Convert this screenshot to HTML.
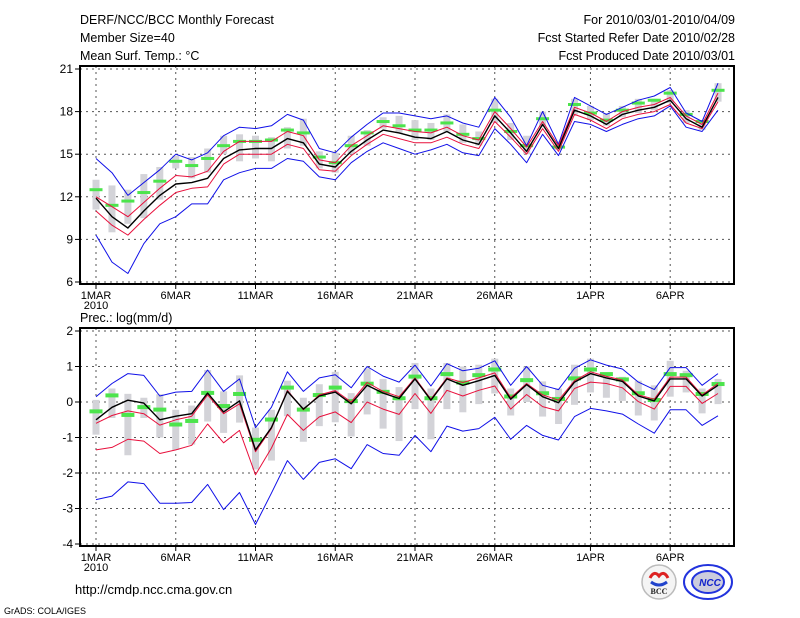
<!DOCTYPE html>
<html><head><meta charset="utf-8"><style>
html,body{margin:0;padding:0;background:#fff;}
svg{display:block;font-family:"Liberation Sans",sans-serif;}
</style></head><body>
<svg id="chart" width="800" height="618" viewBox="0 0 800 618" xmlns="http://www.w3.org/2000/svg">
<g font-size="12.5" fill="#000">
<text x="80" y="24">DERF/NCC/BCC Monthly Forecast</text>
<text x="80" y="42">Member Size=40</text>
<text x="80" y="60">Mean Surf. Temp.: °C</text>
<text x="735" y="24" text-anchor="end">For 2010/03/01-2010/04/09</text>
<text x="735" y="42" text-anchor="end">Fcst Started Refer Date 2010/02/28</text>
<text x="735" y="60" text-anchor="end">Fcst Produced Date 2010/03/01</text>
<text x="80" y="322">Prec.: log(mm/d)</text>
</g>
<g id="top"></g>
<g id="bot"></g>
<text x="75" y="594" font-size="13">http://cmdp.ncc.cma.gov.cn</text>
<text x="4" y="614" font-size="9">GrADS: COLA/IGES</text>
<g>
<circle cx="659" cy="582" r="17" fill="#f4f4f4" stroke="#bbb" stroke-width="1.5"/>
<path d="M650 578 q4 -8 9 -2 q5 -6 9 2" fill="none" stroke="#d22" stroke-width="3"/>
<path d="M651 582 q8 6 16 0" fill="none" stroke="#24c" stroke-width="3"/>
<text x="659" y="594" font-size="8" text-anchor="middle" font-family="Liberation Serif,serif" font-weight="bold" fill="#222">BCC</text>
</g>
<g>
<ellipse cx="708" cy="582" rx="24" ry="17" fill="none" stroke="#23d" stroke-width="2"/>
<ellipse cx="708" cy="582" rx="16" ry="11" fill="#ccd" stroke="#23d" stroke-width="2"/>
<text x="710" y="586" font-size="10" text-anchor="middle" font-weight="bold" font-style="italic" fill="#12c">NCC</text>
</g>
</svg>
<script>
// ---------- data ----------
const days = ['1MAR','2MAR','3MAR','4MAR','5MAR','6MAR','7MAR','8MAR','9MAR','10MAR','11MAR','12MAR','13MAR','14MAR','15MAR','16MAR','17MAR','18MAR','19MAR','20MAR','21MAR','22MAR','23MAR','24MAR','25MAR','26MAR','27MAR','28MAR','29MAR','30MAR','31MAR','1APR','2APR','3APR','4APR','5APR','6APR','7APR','8APR','9APR'];
const xTickLabels = ['1MAR','6MAR','11MAR','16MAR','21MAR','26MAR','1APR','6APR'];
const tTicks = [6,9,12,15,18,21];
const pTicks = [-4,-3,-2,-1,0,1,2];

const tBlack = [11.9,10.6,9.8,11.0,12.1,12.9,13.0,13.3,14.7,15.3,15.4,15.4,16.1,15.8,14.3,14.1,15.2,16.0,16.7,16.5,16.2,16.1,16.6,16.0,15.7,17.7,16.5,15.2,17.1,15.4,18.1,17.7,17.1,17.8,18.1,18.3,18.8,17.5,16.9,19.0];
const tRedHi = [12.0,11.3,10.6,11.6,12.6,13.5,13.4,13.8,15.2,15.9,15.9,15.9,16.6,16.3,14.6,14.4,15.6,16.3,17.0,16.8,16.6,16.5,16.9,16.3,16.0,18.0,16.8,15.5,17.3,15.6,18.3,17.9,17.3,18.0,18.3,18.5,19.0,17.7,17.1,19.3];
const tRedLo = [11.0,10.0,9.3,10.4,11.4,12.3,12.6,12.7,14.3,15.0,15.0,15.0,15.7,15.4,13.9,13.8,14.9,15.7,16.4,16.1,15.8,15.8,16.2,15.7,15.4,17.3,16.2,15.0,16.8,15.2,17.8,17.4,16.8,17.5,17.8,18.0,18.5,17.2,16.8,18.7];
const tBlueHi = [14.7,13.7,12.1,13.0,13.9,15.0,14.6,15.1,16.3,16.9,16.8,17.0,17.8,17.4,15.4,15.1,16.2,17.1,17.9,17.9,17.7,17.5,17.7,17.2,16.9,19.0,17.6,15.6,18.0,15.7,19.0,18.4,17.8,18.3,18.8,19.1,19.7,17.9,17.3,20.0];
const tBlueLo = [9.3,7.4,6.6,8.7,10.1,10.6,11.5,11.5,13.2,13.7,14.0,14.0,14.7,14.5,13.4,13.2,14.4,15.2,15.8,15.4,15.0,15.3,15.7,15.1,14.9,16.8,15.7,14.4,16.4,14.9,17.3,17.1,16.6,17.1,17.5,17.7,18.4,16.9,16.6,18.1];
const tGreen = [12.5,11.4,11.7,12.3,13.1,14.5,14.2,14.7,15.6,15.9,15.9,16.0,16.7,16.5,14.8,14.4,15.6,16.5,17.3,17.0,16.7,16.7,17.2,16.4,16.1,18.1,16.6,15.6,17.5,15.5,18.5,17.9,17.4,18.1,18.6,18.8,19.3,17.8,17.3,19.5];
const tGrayLo = [11.1,9.5,10.1,10.5,11.8,14.0,13.3,13.7,15.0,14.5,14.7,14.5,15.4,15.6,14.0,13.7,15.0,15.6,16.8,16.5,16.0,16.0,16.6,15.8,15.6,17.2,16.0,15.0,16.9,15.3,17.8,17.4,17.0,17.6,17.9,18.1,18.6,17.2,16.7,18.7];
const tGrayHi = [13.2,12.8,12.5,13.6,14.1,14.9,14.8,15.4,16.3,16.4,16.3,16.2,16.9,17.5,15.2,15.1,16.3,16.7,17.6,17.7,17.4,17.2,17.8,17.1,16.6,18.9,17.2,16.3,18.0,15.9,18.9,18.4,17.9,18.4,18.9,18.9,19.5,18.1,17.4,20.0];

const pBlack = [-0.5,-0.15,0.05,-0.03,-0.5,-0.4,-0.33,0.25,-0.28,0.03,-1.35,-0.72,0.3,-0.2,0.17,0.28,-0.05,0.47,0.25,0.1,0.65,0.05,0.65,0.47,0.6,0.75,0.08,0.49,0.15,-0.02,0.56,0.8,0.68,0.58,0.17,0.03,0.65,0.65,0.17,0.47];
const pRedHi = [-0.6,-0.38,-0.25,-0.33,-0.65,-0.5,-0.4,0.2,-0.33,-0.05,-1.4,-0.75,0.33,-0.22,0.2,0.32,0.0,0.55,0.3,0.15,0.68,0.08,0.68,0.55,0.68,0.82,0.12,0.52,0.2,0.05,0.6,0.85,0.72,0.62,0.2,0.08,0.7,0.7,0.2,0.52];
const pRedLo = [-1.35,-1.28,-1.05,-1.1,-1.45,-1.35,-1.22,-0.62,-1.15,-0.8,-2.05,-1.3,-0.35,-0.8,-0.42,-0.28,-0.58,0.0,-0.2,-0.35,0.24,-0.32,0.33,0.17,0.33,0.45,-0.2,0.21,-0.13,-0.25,0.38,0.56,0.52,0.4,0.01,-0.2,0.44,0.44,-0.04,0.24];
const pBlueHi = [0.15,0.52,0.8,0.75,0.17,0.28,0.3,0.9,0.3,0.65,-0.72,-0.15,0.85,0.3,0.68,0.77,0.4,1.0,0.73,0.56,1.04,0.45,1.08,0.88,0.95,1.16,0.47,1.0,0.47,0.35,0.95,1.19,1.04,0.93,0.56,0.35,0.97,0.97,0.47,0.8];
const pBlueLo = [-2.75,-2.65,-2.25,-2.3,-2.85,-2.85,-2.83,-2.32,-3.03,-2.55,-3.45,-2.57,-1.65,-2.18,-1.7,-1.6,-1.88,-1.2,-1.45,-1.5,-0.94,-1.4,-0.68,-0.82,-0.75,-0.43,-1.05,-0.66,-0.94,-1.07,-0.41,-0.18,-0.25,-0.34,-0.62,-0.88,-0.22,-0.22,-0.66,-0.39];
const pGreen = [-0.25,0.2,-0.35,-0.13,-0.2,-0.62,-0.52,0.27,-0.1,0.24,-1.05,-0.48,0.42,-0.2,0.21,0.42,0.04,0.53,0.3,0.12,0.73,0.12,0.8,0.56,0.77,0.93,0.17,0.63,0.26,0.1,0.68,0.93,0.8,0.65,0.26,0.07,0.8,0.77,0.24,0.52];
const pGrayLo = [-0.92,-0.45,-1.5,-0.45,-1.0,-1.35,-1.2,-0.55,-0.87,-0.58,-1.9,-1.65,-0.4,-1.12,-0.68,-0.57,-0.97,-0.35,-0.75,-1.1,-0.2,-1.05,-0.2,-0.29,-0.06,0.24,-0.38,0.0,-0.41,-0.62,-0.08,0.27,0.12,0.03,-0.38,-0.52,0.15,0.27,-0.32,-0.06];
const pGrayHi = [0.06,0.38,0.23,0.12,0.22,-0.22,-0.1,0.9,0.3,0.75,-0.72,-0.22,0.6,0.12,0.5,0.85,0.25,0.95,0.65,0.42,1.1,0.38,1.1,1.0,1.05,1.22,0.38,1.0,0.58,0.38,1.05,1.22,0.71,0.71,0.6,0.47,1.16,0.88,0.38,0.65];

// ---------- drawing ----------
const NS='http://www.w3.org/2000/svg';
function mk(parent,tag,attrs){const e=document.createElementNS(NS,tag);for(const k in attrs)e.setAttribute(k,attrs[k]);parent.appendChild(e);return e;}
const xL=80,xR=734;
function xScale(i){return 96+i*15.95;}

function panel(g,yTop,yBot,vMin,vMax,ticks,series,pref){
  const yScale=v=>yBot-2-(v-vMin)/(vMax-vMin)*(yBot-2-(yTop+3));
  ticks.forEach(t=>{
    const y=yScale(t);
    const l=mk(g,'line',{x1:xL,x2:xR,y1:y,y2:y,stroke:'#555','stroke-width':1,'stroke-dasharray':'2,4'});
    
    
    const tk=mk(g,'line',{x1:xL-5,x2:xL,y1:y,y2:y,stroke:'#000'});
    
    
    const tx=mk(g,'text',{x:xL-7,y:y+4,'text-anchor':'end','font-size':12});
    tx.textContent=t;
    
    
  });
  xTickLabels.forEach(lab=>{
    const i=days.indexOf(lab);const x=xScale(i);
    const l=mk(g,'line',{x1:x,x2:x,y1:yTop,y2:yBot,stroke:'#555','stroke-width':1,'stroke-dasharray':'2,4'});
    
    
    const tk=mk(g,'line',{x1:x,x2:x,y1:yBot,y2:yBot+5,stroke:'#000'});
    
    
    const tx=mk(g,'text',{x:x,y:yBot+15,'text-anchor':'middle','font-size':11});
    tx.textContent=lab;
    
    
  });
  const yr=mk(g,'text',{x:96,y:yBot+25,'text-anchor':'middle','font-size':11});
  yr.textContent='2010';
  
  
  series.grayLo.forEach((lo,i)=>{
    const hi=series.grayHi[i];const y1=yScale(hi),y2=yScale(lo);
    const r=mk(g,'rect',{x:xScale(i)-3.5,y:y1,width:7,height:Math.max(1,y2-y1),fill:'#d3d3d8'});
    
    
  });
  series.green.forEach((v,i)=>{
    const r=mk(g,'rect',{x:xScale(i)-6.5,y:yScale(v)-1.5,width:13,height:pref==='temp'?3:4,fill:'#4ce44c'});
    
    
  });
  function line(arr,color,w,name){
    const pts=arr.map((v,i)=>xScale(i).toFixed(1)+','+yScale(v).toFixed(1)).join(' ');
    const p=mk(g,'polyline',{points:pts,fill:'none',stroke:color,'stroke-width':w,'stroke-linejoin':'round'});
    
    
  }
  line(series.blueLo,'#1010e8',1,pref+'-blue-lower-line');
  line(series.blueHi,'#1010e8',1,pref+'-blue-upper-line');
  line(series.redLo,'#e8103c',1,pref+'-red-lower-line');
  line(series.redHi,'#e8103c',1,pref+'-red-upper-line');
  line(series.black,'#000',1.4,pref+'-ensemble-mean-line');
  const f=mk(g,'rect',{x:xL,y:yTop,width:xR-xL,height:yBot-yTop,fill:'none',stroke:'#000','stroke-width':2});
  
  
}
panel(document.getElementById('top'),66,284,6,21,tTicks,{black:tBlack,redHi:tRedHi,redLo:tRedLo,blueHi:tBlueHi,blueLo:tBlueLo,green:tGreen,grayLo:tGrayLo,grayHi:tGrayHi},'temp');
panel(document.getElementById('bot'),328,546,-4,2,pTicks,{black:pBlack,redHi:pRedHi,redLo:pRedLo,blueHi:pBlueHi,blueLo:pBlueLo,green:pGreen,grayLo:pGrayLo,grayHi:pGrayHi},'prec');
</script>
</body></html>
